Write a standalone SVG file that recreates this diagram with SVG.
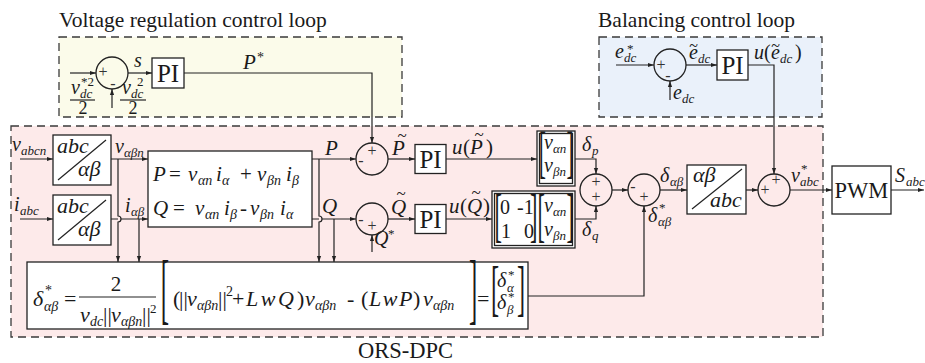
<svg xmlns="http://www.w3.org/2000/svg" width="925" height="363" viewBox="0 0 925 363">
<style>
.s{font-family:"Liberation Serif","Times New Roman",serif;fill:#1a1a1a}
.i{font-style:italic}
.m{text-anchor:middle}
.ln{fill:none;stroke:#222;stroke-width:1.2}
.ar{marker-end:url(#ah)}
.bx{fill:#fff;stroke:#222;stroke-width:1.3}
.cr{fill:none;stroke:#222;stroke-width:1.3}
.db{stroke:#3a3a3a;stroke-width:1.3;stroke-dasharray:8 5}
.sg{font-family:"Liberation Serif",serif;font-size:16px;text-anchor:middle;fill:#333}
</style>
<defs>
<marker id="ah" viewBox="0 0 10 10" refX="10" refY="5" markerWidth="6" markerHeight="6" orient="auto" markerUnits="userSpaceOnUse">
<path d="M0,1.5 L10,5 L0,8.5 z" fill="#222"/>
</marker>
</defs>
<rect width="925" height="363" fill="#fff"/>

<g id="regions">
<rect class="db" x="59" y="37" width="343" height="80" fill="#fbfbea"/>
<rect class="db" x="599" y="37" width="223" height="80" fill="#eaf1fa"/>
<rect class="db" x="11" y="126" width="812" height="211" fill="#fdeaea"/>
<text class="s" x="59" y="27" font-size="21.5">Voltage regulation control loop</text>
<text class="s" x="598" y="27" font-size="21.5">Balancing control loop</text>
<text class="s" x="358" y="358" font-size="22.5">ORS-DPC</text>
</g>

<g id="connectors">
<path class="ln ar" d="M70,73 H96"/>
<path class="ln ar" d="M112,108 V89"/>
<path class="ln ar" d="M128,73 H152"/>
<path class="ln ar" d="M184,73 H372 V143"/>
<path class="ln ar" d="M616,65 H654"/>
<path class="ln ar" d="M670,100 V81"/>
<path class="ln ar" d="M686,65 H717"/>
<path class="ln ar" d="M748,65 H774 V174"/>
<path class="ln ar" d="M20,159 H53"/>
<path class="ln ar" d="M20,219 H53"/>
<path class="ln ar" d="M111,159 H148"/>
<path class="ln ar" d="M111,219 H118 M121,219 H148"/>
<path class="ln ar" d="M118,159 V216 A3,3 0 0 1 118,222 V262"/>
<path class="ln ar" d="M139,219 V262"/>
<path class="ln ar" d="M312,159 H356"/>
<path class="ln ar" d="M312,219 H319 M322,219 H356"/>
<path class="ln ar" d="M319,159 V216 A3,3 0 0 1 319,222 V262"/>
<path class="ln ar" d="M334,219 V262"/>
<path class="ln ar" d="M372,252 V235"/>
<path class="ln ar" d="M388,159 H415"/>
<path class="ln ar" d="M388,219 H415"/>
<path class="ln ar" d="M446,159 H537"/>
<path class="ln ar" d="M446,219 H492"/>
<path class="ln ar" d="M575,159 H596 V174"/>
<path class="ln ar" d="M575,219 H596 V206"/>
<path class="ln ar" d="M612,190 H628"/>
<path class="ln ar" d="M528,296 H644 V206"/>
<path class="ln ar" d="M660,190 H687"/>
<path class="ln ar" d="M746,190 H758"/>
<path class="ln ar" d="M790,190 H832"/>
<path class="ln ar" d="M891,190 H924"/>
</g>

<g id="sum-vdc">
<circle class="cr" cx="112" cy="73" r="16"/>
<text class="sg" x="103" y="77">+</text>
<text class="sg" x="113" y="89">-</text>
</g>
<g id="pi-v">
<rect class="bx" x="152" y="58" width="32" height="30"/>
<text class="s m" x="168" y="82" font-size="25">PI</text>
</g>
<g id="labels-v">
<text class="s i" x="134" y="67" font-size="20">s</text>
<text class="s" font-size="21"><tspan class="i" x="243" y="69">P</tspan><tspan x="257" y="62" font-size="14">*</tspan></text>
<text class="s" font-size="20"><tspan class="i" x="71" y="94">v</tspan><tspan class="i" x="80" y="98" font-size="13">dc</tspan><tspan x="81" y="86" font-size="13">*2</tspan></text>
<line class="ln" x1="70" y1="100" x2="95" y2="100"/>
<text class="s m" x="83" y="114" font-size="18">2</text>
<text class="s" font-size="20"><tspan class="i" x="122" y="94">v</tspan><tspan class="i" x="131" y="98" font-size="13">dc</tspan><tspan x="137" y="86" font-size="13">2</tspan></text>
<line class="ln" x1="120" y1="100" x2="146" y2="100"/>
<text class="s m" x="133" y="114" font-size="18">2</text>
</g>

<g id="sum-edc">
<circle class="cr" cx="670" cy="65" r="16"/>
<text class="sg" x="661" y="70">+</text>
<text class="sg" x="668" y="81">-</text>
</g>
<g id="pi-e">
<rect class="bx" x="717" y="50" width="31" height="30"/>
<text class="s m" x="732.5" y="74" font-size="25">PI</text>
</g>
<g id="labels-e">
<text class="s" font-size="20"><tspan class="i" x="615" y="58">e</tspan><tspan class="i" x="624" y="62" font-size="13">dc</tspan><tspan x="627" y="53" font-size="13">*</tspan></text>
<text class="s" font-size="20"><tspan class="i" x="673" y="99">e</tspan><tspan class="i" x="682" y="103" font-size="13">dc</tspan></text>
<text class="s" font-size="20"><tspan class="i" x="689" y="59">e</tspan><tspan class="i" x="698" y="63" font-size="13">dc</tspan></text>
<text class="s m" x="693.5" y="51" font-size="16">~</text>
<text class="s" font-size="20"><tspan class="i" x="754" y="59">u</tspan><tspan x="764" y="59">(</tspan><tspan class="i" x="771" y="59">e</tspan><tspan class="i" x="780" y="63" font-size="13">dc</tspan><tspan x="795" y="59">)</tspan></text>
<text class="s m" x="775.5" y="51" font-size="16">~</text>
</g>

<g id="abc-ab-v">
<rect class="bx" x="53" y="135" width="58" height="50"/>
<line class="ln" x1="58" y1="180" x2="106" y2="140"/>
<text class="s i" x="57" y="153" font-size="22">abc</text>
<text class="s i" x="78" y="176" font-size="22">αβ</text>
</g>
<g id="abc-ab-i">
<rect class="bx" x="53" y="195" width="58" height="50"/>
<line class="ln" x1="58" y1="240" x2="106" y2="200"/>
<text class="s i" x="57" y="213" font-size="22">abc</text>
<text class="s i" x="78" y="236" font-size="22">αβ</text>
</g>
<g id="labels-in">
<text class="s" font-size="20"><tspan class="i" x="12" y="151">v</tspan><tspan class="i" x="21" y="155" font-size="13">abcn</tspan></text>
<text class="s" font-size="20"><tspan class="i" x="14" y="211">i</tspan><tspan class="i" x="20" y="215" font-size="13">abc</tspan></text>
<text class="s" font-size="20"><tspan class="i" x="115" y="153">v</tspan><tspan class="i" x="124" y="157" font-size="13">αβn</tspan></text>
<text class="s" font-size="20"><tspan class="i" x="125" y="212">i</tspan><tspan class="i" x="131" y="216" font-size="13">αβ</tspan></text>
</g>

<g id="pq-calc">
<rect class="bx" x="148" y="151" width="164" height="76"/>
<text class="s" font-size="21"><tspan class="i" x="153" y="181">P</tspan><tspan x="169" y="181">=</tspan><tspan class="i" x="188" y="181">v</tspan><tspan class="i" x="198" y="185" font-size="14">αn</tspan><tspan class="i" x="216" y="181">i</tspan><tspan class="i" x="222" y="185" font-size="14">α</tspan><tspan x="240" y="181">+</tspan><tspan class="i" x="257" y="181">v</tspan><tspan class="i" x="267" y="185" font-size="14">βn</tspan><tspan class="i" x="286" y="181">i</tspan><tspan class="i" x="292" y="185" font-size="14">β</tspan></text>
<text class="s" font-size="21"><tspan class="i" x="153" y="215">Q</tspan><tspan x="173" y="215">=</tspan><tspan class="i" x="195" y="215">v</tspan><tspan class="i" x="205" y="219" font-size="14">αn</tspan><tspan class="i" x="224" y="215">i</tspan><tspan class="i" x="230" y="219" font-size="14">β</tspan><tspan x="240" y="215">-</tspan><tspan class="i" x="250" y="215">v</tspan><tspan class="i" x="260" y="219" font-size="14">βn</tspan><tspan class="i" x="280" y="215">i</tspan><tspan class="i" x="286" y="219" font-size="14">α</tspan></text>
</g>

<g id="labels-pq">
<text class="s i" x="325" y="155" font-size="21">P</text>
<text class="s i" x="322" y="213" font-size="21">Q</text>
<text class="s i" x="392" y="155" font-size="21">P</text>
<text class="s m" x="402" y="141" font-size="17">~</text>
<text class="s i" x="391" y="214" font-size="21">Q</text>
<text class="s m" x="401" y="199" font-size="17">~</text>
<text class="s" font-size="21"><tspan class="i" x="452" y="154">u</tspan><tspan x="463" y="154">(</tspan><tspan class="i" x="470" y="154">P</tspan><tspan x="486" y="154">)</tspan></text>
<text class="s m" x="479" y="140" font-size="17">~</text>
<text class="s" font-size="21"><tspan class="i" x="449" y="213">u</tspan><tspan x="460" y="213">(</tspan><tspan class="i" x="467" y="213">Q</tspan><tspan x="483" y="213">)</tspan></text>
<text class="s m" x="476" y="198" font-size="17">~</text>
<text class="s" font-size="20"><tspan class="i" x="374" y="245">Q</tspan><tspan x="388" y="238" font-size="13">*</tspan></text>
</g>

<g id="sum-p">
<circle class="cr" cx="372" cy="159" r="16"/>
<text class="sg" x="372" y="156">+</text>
<text class="sg" x="361" y="166">-</text>
</g>
<g id="sum-q">
<circle class="cr" cx="372" cy="219" r="16"/>
<text class="sg" x="361" y="225">-</text>
<text class="sg" x="372" y="231">+</text>
</g>
<g id="pi-p">
<rect class="bx" x="415" y="144.5" width="31" height="29"/>
<text class="s m" x="430.5" y="167.5" font-size="25">PI</text>
</g>
<g id="pi-q">
<rect class="bx" x="415" y="204.5" width="31" height="29"/>
<text class="s m" x="430.5" y="227.5" font-size="25">PI</text>
</g>

<g id="vec-p">
<rect class="bx" x="537" y="131" width="38" height="55"/>
<rect class="cr" x="539.5" y="133.5" width="33" height="50"/>
<text class="s" font-size="57" transform="translate(538.8,171) scale(0.38,1)">[</text>
<text class="s" font-size="57" transform="translate(566.5,171) scale(0.38,1)">]</text>
<text class="s" font-size="20"><tspan class="i" x="544" y="149">v</tspan><tspan class="i" x="553" y="153" font-size="13">αn</tspan></text>
<text class="s" font-size="20"><tspan class="i" x="544" y="172">v</tspan><tspan class="i" x="553" y="176" font-size="13">βn</tspan></text>
</g>
<g id="mat-q">
<rect class="bx" x="492" y="191" width="83" height="57"/>
<rect class="cr" x="494.5" y="193.5" width="78" height="52"/>
<text class="s" font-size="59" transform="translate(494.5,235) scale(0.38,1)">[</text>
<text class="s" font-size="59" transform="translate(530,235) scale(0.38,1)">]</text>
<text class="s" font-size="59" transform="translate(537.5,235) scale(0.38,1)">[</text>
<text class="s" font-size="59" transform="translate(566.5,235) scale(0.38,1)">]</text>
<text class="s" font-size="20"><tspan x="500" y="214">0</tspan><tspan x="517" y="214">-1</tspan><tspan x="501" y="238">1</tspan><tspan x="524" y="238">0</tspan></text>
<text class="s" font-size="20"><tspan class="i" x="544" y="212">v</tspan><tspan class="i" x="553" y="216" font-size="13">αn</tspan></text>
<text class="s" font-size="20"><tspan class="i" x="544" y="236">v</tspan><tspan class="i" x="553" y="240" font-size="13">βn</tspan></text>
</g>
<g id="labels-d">
<text class="s" font-size="20"><tspan class="i" x="582" y="151">δ</tspan><tspan class="i" x="592" y="155" font-size="13">p</tspan></text>
<text class="s" font-size="20"><tspan class="i" x="582" y="236">δ</tspan><tspan class="i" x="592" y="240" font-size="13">q</tspan></text>
</g>

<g id="sum-d">
<circle class="cr" cx="596" cy="190" r="16"/>
<text class="sg" x="596" y="187">+</text>
<text class="sg" x="596" y="202">+</text>
</g>
<g id="sum-dab">
<circle class="cr" cx="644" cy="190" r="16"/>
<text class="sg" x="633" y="192">-</text>
<text class="sg" x="644" y="202">+</text>
</g>
<g id="labels-dab">
<text class="s" font-size="20"><tspan class="i" x="660" y="182">δ</tspan><tspan class="i" x="670" y="186" font-size="13">αβ</tspan></text>
<text class="s" font-size="20"><tspan class="i" x="648" y="222">δ</tspan><tspan x="659" y="212" font-size="13">*</tspan><tspan class="i" x="658" y="226" font-size="13">αβ</tspan></text>
</g>
<g id="ab-abc">
<rect class="bx" x="687" y="165" width="59" height="49"/>
<line class="ln" x1="692" y1="209" x2="742" y2="169"/>
<text class="s i" x="693" y="182" font-size="22">αβ</text>
<text class="s i" x="710" y="207" font-size="22">abc</text>
</g>
<g id="sum-v">
<circle class="cr" cx="774" cy="190" r="16"/>
<text class="sg" x="776" y="185">+</text>
<text class="sg" x="765" y="195">+</text>
</g>
<g id="labels-out">
<text class="s" font-size="20"><tspan class="i" x="791" y="182">v</tspan><tspan x="801" y="173" font-size="13">*</tspan><tspan class="i" x="800" y="186" font-size="13">abc</tspan></text>
<text class="s" font-size="20"><tspan class="i" x="895" y="182">S</tspan><tspan class="i" x="906" y="186" font-size="13">abc</tspan></text>
</g>
<g id="pwm">
<rect class="bx" x="832" y="166" width="59" height="48"/>
<text class="s m" x="861.5" y="198" font-size="22.5">PWM</text>
</g>

<g id="delta-ref">
<rect class="bx" x="27" y="262" width="501" height="67"/>
<text class="s" font-size="22"><tspan class="i" x="33" y="306">δ</tspan><tspan x="45" y="295" font-size="14">*</tspan><tspan class="i" x="44" y="311" font-size="14">αβ</tspan><tspan x="64" y="306">=</tspan></text>
<text class="s m" x="116" y="291" font-size="21">2</text>
<line class="ln" x1="79" y1="297" x2="156" y2="297"/>
<text class="s" font-size="22"><tspan class="i" x="80" y="322">v</tspan><tspan class="i" x="90" y="326" font-size="14">dc</tspan><tspan x="103" y="322">||</tspan><tspan class="i" x="111" y="322">v</tspan><tspan class="i" x="121" y="326" font-size="14">αβn</tspan><tspan x="142" y="322">||</tspan><tspan x="150" y="313" font-size="13">2</tspan></text>
<text class="s" font-size="78" transform="translate(160.8,315) scale(0.32,1)">[</text>
<text class="s" font-size="22"><tspan x="173" y="306">(</tspan><tspan x="179" y="306">||</tspan><tspan class="i" x="187" y="306">v</tspan><tspan class="i" x="197" y="310" font-size="14">αβn</tspan><tspan x="218" y="306">||</tspan><tspan x="226" y="296" font-size="14">2</tspan><tspan x="232" y="306">+</tspan><tspan class="i" x="246" y="306" letter-spacing="2.5">LwQ</tspan><tspan x="297" y="306">)</tspan><tspan class="i" x="305" y="306">v</tspan><tspan class="i" x="315" y="310" font-size="14">αβn</tspan><tspan x="347" y="306">-</tspan><tspan x="361" y="306">(</tspan><tspan class="i" x="369" y="306" letter-spacing="1.5">LwP</tspan><tspan x="413" y="306">)</tspan><tspan class="i" x="423" y="306">v</tspan><tspan class="i" x="433" y="310" font-size="14">αβn</tspan></text>
<text class="s" font-size="78" transform="translate(469,315) scale(0.32,1)">]</text>
<text class="s" x="477" y="306" font-size="22">=</text>
<text class="s" font-size="61" transform="translate(490.9,308.5) scale(0.4,1)">[</text>
<text class="s" font-size="61" transform="translate(517,308.5) scale(0.4,1)">]</text>
<text class="s" font-size="20"><tspan class="i" x="497" y="287">δ</tspan><tspan x="508" y="279" font-size="13">*</tspan><tspan class="i" x="507" y="292" font-size="13">α</tspan></text>
<text class="s" font-size="20"><tspan class="i" x="497" y="309">δ</tspan><tspan x="508" y="301" font-size="13">*</tspan><tspan class="i" x="507" y="314" font-size="13">β</tspan></text>
</g>
</svg>
